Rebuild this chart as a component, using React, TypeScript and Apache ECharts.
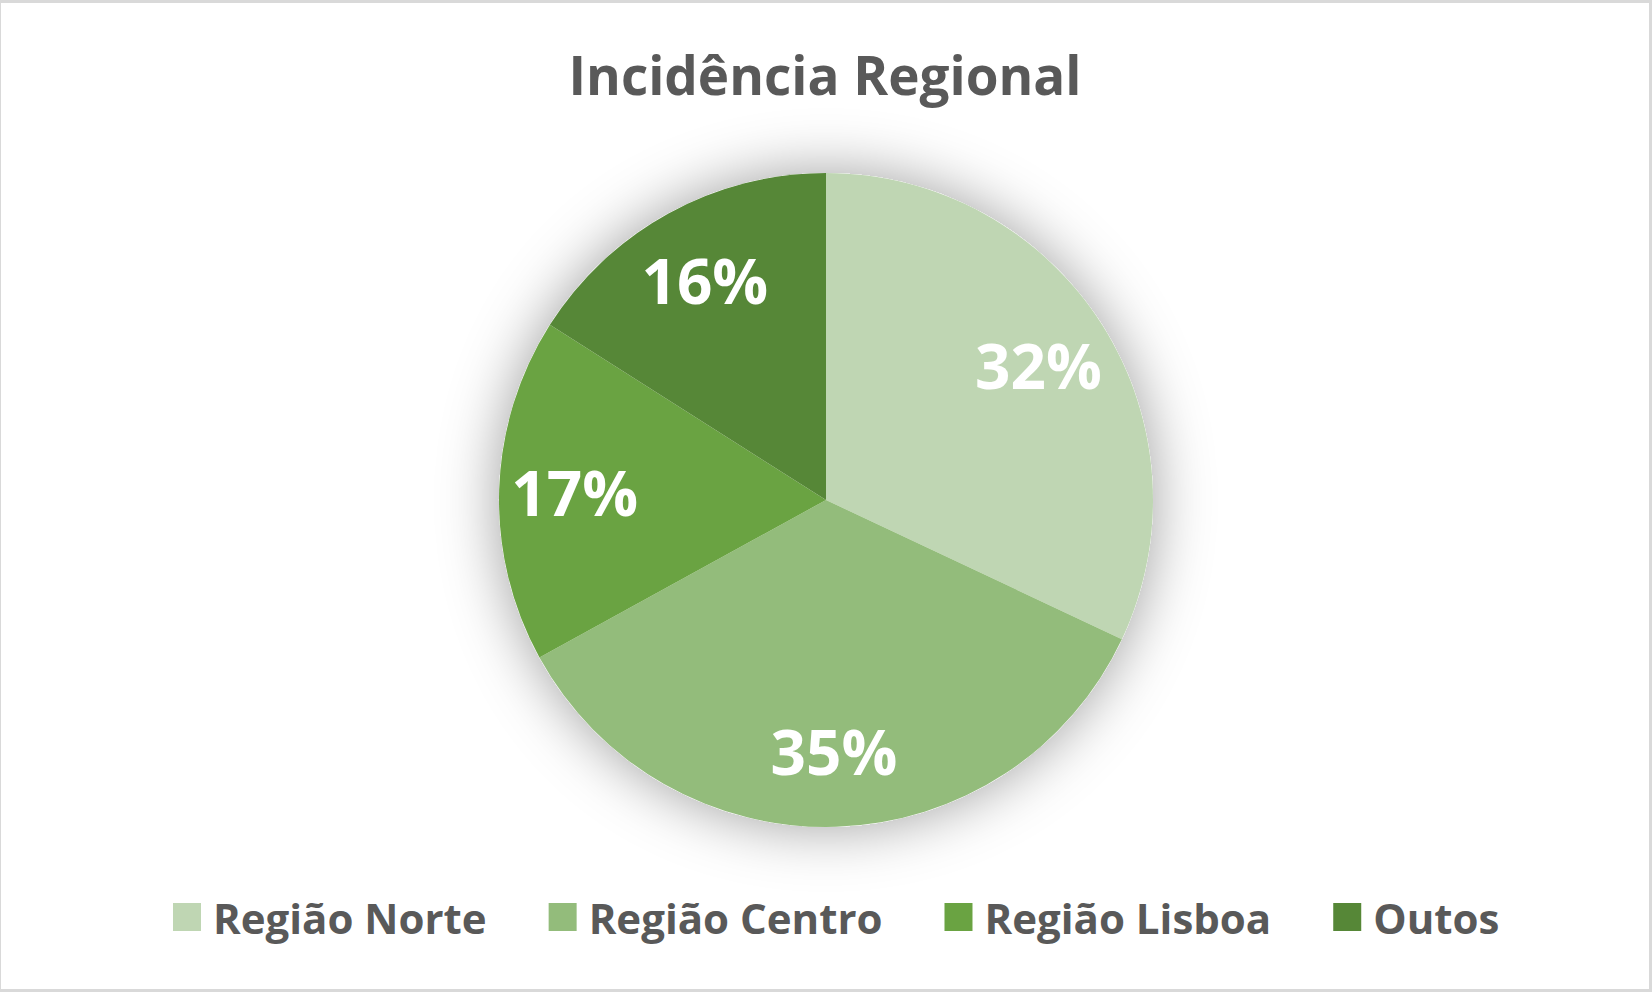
import React, { useEffect, useRef } from "react";
import * as echarts from "echarts";

const TITLE = "Incidência Regional";
const categories = ["Região Norte", "Região Centro", "Região Lisboa", "Outos"];
const values = [32, 35, 17, 16];
const colors = ["#BFD6B3", "#93BC7B", "#6AA342", "#568737"];

const FONT = "'Open Sans', 'Noto Sans', sans-serif";

export default function App() {
  const ref = useRef<HTMLDivElement>(null);
  useEffect(() => {
    document.body.style.margin = "0";
    const chart = echarts.init(ref.current!, undefined, { renderer: "svg" });
    const data = categories.map((name, i) => ({
      name,
      value: values[i],
      itemStyle: { color: colors[i] },
    }));
    const R = 327;
    chart.setOption({
      animation: false,
      backgroundColor: "#ffffff",
      title: {
        text: TITLE,
        left: "center",
        top: 40,
        textStyle: {
          fontFamily: FONT,
          fontWeight: "bold",
          fontSize: 53,
          color: "#595959",
        },
      },
      legend: {
        data: categories,
        bottom: 46,
        left: 167,
        icon: "rect",
        itemWidth: 28,
        itemHeight: 28,
        itemGap: 62,
        textStyle: {
          fontFamily: FONT,
          fontWeight: "bold",
          fontSize: 42,
          color: "#595959",
          padding: [0, 0, 0, 7],
        },
      },
      series: [
        {
          type: "pie",
          name: "shadow",
          silent: true,
          center: [825, 497],
          radius: [0, R],
          z: 1,
          label: { show: false },
          labelLine: { show: false },
          data: [
            {
              name: "__bg",
              value: 1,
              itemStyle: {
                color: "#ffffff",
                shadowBlur: 60,
                shadowColor: "rgba(0,0,0,0.38)",
              },
            },
          ],
        },
        {
          type: "pie",
          name: TITLE,
          center: [825, 497],
          radius: [0, R],
          startAngle: 90,
          clockwise: true,
          z: 2,
          label: { show: false },
          labelLine: { show: false },
          itemStyle: { borderWidth: 0 },
          data,
        },
        {
          type: "pie",
          name: "labels",
          silent: true,
          center: [825, 497],
          radius: [R * 0.52, R],
          startAngle: 90,
          clockwise: true,
          z: 3,
          itemStyle: { color: "rgba(0,0,0,0)", borderWidth: 0 },
          label: {
            show: true,
            position: "inside",
            formatter: "{d}%",
            fontFamily: FONT,
            fontWeight: "bold",
            fontSize: 62,
            color: "#ffffff",
          },
          labelLine: { show: false },
          data: categories.map((name, i) => ({ name, value: values[i] })),
        },
      ],
    });
    return () => chart.dispose();
  }, []);
  return (
    <div
      style={{
        position: "fixed",
        left: 0,
        top: 0,
        width: 1652,
        height: 992,
        boxSizing: "border-box",
        borderStyle: "solid",
        borderColor: "#D9D9D9",
        borderWidth: "3px 3px 3px 1px",
        background: "#fff",
      }}
    >
      <div ref={ref} style={{ width: 1648, height: 986 }} />
    </div>
  );
}
